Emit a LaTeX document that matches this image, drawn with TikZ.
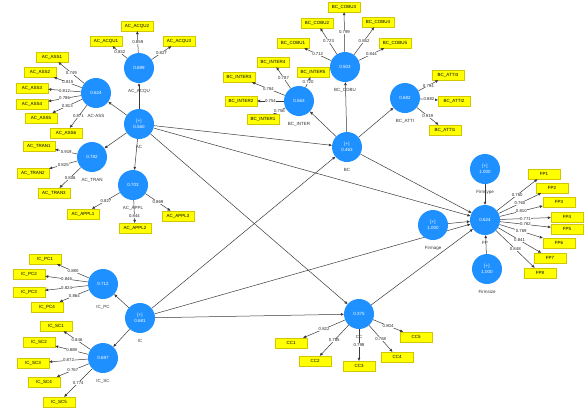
\documentclass[tikz,border=0pt]{standalone}
\usepackage{fontspec}
\setmainfont{Liberation Sans}
\usetikzlibrary{arrows.meta, positioning, backgrounds}
\definecolor{plsblue}{HTML}{1E90FF}
\definecolor{itemyellow}{HTML}{FFFF00}
\definecolor{itemborder}{HTML}{D2C600}
\definecolor{pathgray}{HTML}{3A3A3A}

\begin{document}
\begin{tikzpicture}[
  x=1pt, y=-1pt,
  lv/.style={circle, fill=plsblue, text=white, minimum size=30pt, inner sep=0pt,
             font=\fontsize{4.5}{6}\selectfont, align=center},
  item/.style={draw=itemborder, fill=itemyellow, minimum width=32pt, minimum height=10pt,
               inner sep=0pt, font=\fontsize{4.5}{5}\selectfont},
  lvname/.style={font=\fontsize{4.5}{5}\selectfont, text=black!80, inner sep=1pt,
                 text height=3.5pt, text depth=1pt},
  load/.style={fill=white, inner sep=0.4pt, font=\fontsize{4.3}{5}\selectfont, text=black!85},
  arrow/.style={-{Triangle[length=3pt, width=2.6pt]}, line width=0.5pt, color=pathgray}
]
\useasboundingbox (0,0) rectangle (585,408);

% Latent variables
\node[lv] (acqu) at (139,68) {0.699};
\node[lv] (ass) at (96,93) {0.624};
\node[lv] (ac) at (139,124) {[+]\\0.560};
\node[lv] (tran) at (92,157) {0.782};
\node[lv] (appl) at (133,185) {0.703};
\node[lv] (icpc) at (103,284) {0.712};
\node[lv] (ic) at (140,318) {[+]\\0.681};
\node[lv] (icsc) at (103,358) {0.697};
\node[lv] (cobu) at (345,67) {0.503};
\node[lv] (inter) at (299,101) {0.563};
\node[lv] (atti) at (405,98) {0.682};
\node[lv] (bc) at (347,147) {[+]\\0.463};
\node[lv] (cc) at (359,314) {0.375};
\node[lv] (fp) at (485,220) {0.624};
\node[lv] (ftype) at (485,169) {[+]\\1.000};
\node[lv] (fage) at (433,225) {[+]\\1.000};
\node[lv] (fsize) at (487,269) {[+]\\1.000};

% Names under the circles
\node[lvname, below=4.5pt of acqu] (acqu-name) {AC\_ACQU};
\node[lvname, below=4.5pt of ass] (ass-name) {AC-ASS};
\node[lvname, below=4.5pt of ac] (ac-name) {AC};
\node[lvname, below=4.5pt of tran] (tran-name) {AC\_TRAN};
\node[lvname, below=4.5pt of appl] (appl-name) {AC\_APPL};
\node[lvname, below=4.5pt of icpc] (icpc-name) {IC\_PC};
\node[lvname, below=4.5pt of ic] (ic-name) {IC};
\node[lvname, below=4.5pt of icsc] (icsc-name) {IC\_SC};
\node[lvname, below=4.5pt of cobu] (cobu-name) {BC\_COBU};
\node[lvname, below=4.5pt of inter] (inter-name) {BC\_INTER};
\node[lvname, below=4.5pt of atti] (atti-name) {BC\_ATTI};
\node[lvname, below=4.5pt of bc] (bc-name) {BC};
\node[lvname, below=4.5pt of cc] (cc-name) {CC};
\node[lvname, below=4.5pt of fp] (fp-name) {FP};
\node[lvname, below=4.5pt of ftype] (ftype-name) {Firmtype};
\node[lvname, below=4.5pt of fage] (fage-name) {Firmage};
\node[lvname, below=4.5pt of fsize] (fsize-name) {Firmsize};

% Indicators - AC
\node[item] (acqu1) at (106,41) {AC\_ACQU1};
\node[item] (acqu2) at (137,26) {AC\_ACQU2};
\node[item] (acqu3) at (179,41) {AC\_ACQU3};
\node[item] (ass1) at (52,57) {AC\_ASS1};
\node[item] (ass2) at (40,72) {AC\_ASS2};
\node[item] (ass3) at (32,88) {AC\_ASS3};
\node[item] (ass4) at (32,104) {AC\_ASS4};
\node[item] (ass5) at (41,118) {AC\_ASS5};
\node[item] (ass6) at (66,133) {AC\_ASS6};
\node[item] (tran1) at (39,146) {AC\_TRAN1};
\node[item] (tran2) at (33,173) {AC\_TRAN2};
\node[item] (tran3) at (54,193) {AC\_TRAN3};
\node[item] (appl1) at (83,214) {AC\_APPL1};
\node[item] (appl2) at (135,228) {AC\_APPL2};
\node[item] (appl3) at (178,216) {AC\_APPL3};

% Indicators - IC
\node[item] (icpc1) at (45,259) {IC\_PC1};
\node[item] (icpc2) at (29,274) {IC\_PC2};
\node[item] (icpc3) at (29,292) {IC\_PC3};
\node[item] (icpc4) at (47,307) {IC\_PC4};
\node[item] (icsc1) at (56,326) {IC\_SC1};
\node[item] (icsc2) at (39,342) {IC\_SC2};
\node[item] (icsc3) at (33,363) {IC\_SC3};
\node[item] (icsc4) at (44,382) {IC\_SC4};
\node[item] (icsc5) at (59,402) {IC\_SC5};

% Indicators - BC
\node[item] (cobu1) at (293,43) {BC\_COBU1};
\node[item] (cobu2) at (317,23) {BC\_COBU2};
\node[item] (cobu3) at (344,7) {BC\_COBU3};
\node[item] (cobu4) at (378,22) {BC\_COBU4};
\node[item] (cobu5) at (395,43) {BC\_COBU5};
\node[item] (inter1) at (263,119) {BC\_INTER1};
\node[item] (inter2) at (241,101) {BC\_INTER2};
\node[item] (inter3) at (239,77) {BC\_INTER3};
\node[item] (inter4) at (273,62) {BC\_INTER4};
\node[item] (inter5) at (313,72) {BC\_INTER5};
\node[item] (atti1) at (445,130) {BC\_ATTI1};
\node[item] (atti2) at (454,101) {BC\_ATTI2};
\node[item] (atti3) at (448,75) {BC\_ATTI3};

% Indicators - CC and FP
\node[item] (cc1) at (291,343) {CC1};
\node[item] (cc2) at (315,361) {CC2};
\node[item] (cc3) at (359,366) {CC3};
\node[item] (cc4) at (397,357) {CC4};
\node[item] (cc5) at (416,337) {CC5};
\node[item] (fp1) at (544,174) {FP1};
\node[item] (fp2) at (552,188) {FP2};
\node[item] (fp3) at (559,202) {FP3};
\node[item] (fp4) at (567,217) {FP4};
\node[item] (fp5) at (567,229) {FP5};
\node[item] (fp6) at (559,243) {FP6};
\node[item] (fp7) at (550,258) {FP7};
\node[item] (fp8) at (540,273) {FP8};

% Outer loadings
\draw[arrow] (acqu) -- node[load] {0.832} (acqu1);
\draw[arrow] (acqu) -- node[load] {0.859} (acqu2);
\draw[arrow] (acqu) -- node[load] {0.827} (acqu3);
\draw[arrow] (ass) -- node[load] {0.749} (ass1);
\draw[arrow] (ass) -- node[load] {0.815} (ass2);
\draw[arrow] (ass) -- node[load] {0.812} (ass3);
\draw[arrow] (ass) -- node[load] {0.786} (ass4);
\draw[arrow] (ass) -- node[load] {0.813} (ass5);
\draw[arrow] (ass) -- node[load] {0.871} (ass6);
\draw[arrow] (tran) -- node[load] {0.919} (tran1);
\draw[arrow] (tran) -- node[load] {0.825} (tran2);
\draw[arrow] (tran) -- node[load] {0.806} (tran3);
\draw[arrow] (appl) -- node[load] {0.827} (appl1);
\draw[arrow] (appl) -- node[load, pos=0.7] {0.844} (appl2);
\draw[arrow] (appl) -- node[load] {0.869} (appl3);
\draw[arrow] (icpc) -- node[load] {0.880} (icpc1);
\draw[arrow] (icpc) -- node[load] {0.846} (icpc2);
\draw[arrow] (icpc) -- node[load] {0.824} (icpc3);
\draw[arrow] (icpc) -- node[load] {0.864} (icpc4);
\draw[arrow] (icsc) -- node[load] {0.846} (icsc1);
\draw[arrow] (icsc) -- node[load] {0.888} (icsc2);
\draw[arrow] (icsc) -- node[load] {0.872} (icsc3);
\draw[arrow] (icsc) -- node[load] {0.767} (icsc4);
\draw[arrow] (icsc) -- node[load] {0.774} (icsc5);
\draw[arrow] (cobu) -- node[load] {0.712} (cobu1);
\draw[arrow] (cobu) -- node[load] {0.723} (cobu2);
\draw[arrow] (cobu) -- node[load] {0.799} (cobu3);
\draw[arrow] (cobu) -- node[load] {0.852} (cobu4);
\draw[arrow] (cobu) -- node[load] {0.844} (cobu5);
\draw[arrow] (inter) -- node[load] {0.756} (inter1);
\draw[arrow] (inter) -- node[load] {0.754} (inter2);
\draw[arrow] (inter) -- node[load] {0.784} (inter3);
\draw[arrow] (inter) -- node[load] {0.787} (inter4);
\draw[arrow] (inter) -- node[load] {0.720} (inter5);
\draw[arrow] (atti) -- node[load] {0.919} (atti1);
\draw[arrow] (atti) -- node[load] {0.882} (atti2);
\draw[arrow] (atti) -- node[load] {0.794} (atti3);
\draw[arrow] (cc) -- node[load] {0.822} (cc1);
\draw[arrow] (cc) -- node[load] {0.785} (cc2);
\draw[arrow] (cc) -- node[load] {0.798} (cc3);
\draw[arrow] (cc) -- node[load] {0.768} (cc4);
\draw[arrow] (cc) -- node[load] {0.804} (cc5);
\draw[arrow] (fp) -- node[load] {0.760} (fp1);
\draw[arrow] (fp) -- node[load] {0.760} (fp2);
\draw[arrow] (fp) -- node[load] {0.810} (fp3);
\draw[arrow] (fp) -- node[load] {0.771} (fp4);
\draw[arrow] (fp) -- node[load] {0.762} (fp5);
\draw[arrow] (fp) -- node[load] {0.769} (fp6);
\draw[arrow] (fp) -- node[load] {0.841} (fp7);
\draw[arrow] (fp) -- node[load] {0.848} (fp8);

% Inner model
\begin{scope}[on background layer]
\draw[arrow] (ac) -- (acqu);
\draw[arrow] (ac) -- (ass);
\draw[arrow] (ac) -- (tran);
\draw[arrow] (ac) -- (appl);
\draw[arrow] (ic) -- (icpc);
\draw[arrow] (ic) -- (icsc);
\draw[arrow] (bc) -- (cobu);
\draw[arrow] (bc) -- (inter);
\draw[arrow] (bc) -- (atti);
\draw[arrow] (ac) -- (bc);
\draw[arrow] (ac) -- (fp);
\draw[arrow] (ac) -- (cc);
\draw[arrow] (ic) -- (bc);
\draw[arrow] (ic) -- (fp);
\draw[arrow] (ic) -- (cc);
\draw[arrow] (bc) -- (fp);
\draw[arrow] (cc) -- (fp);
\draw[arrow] (ftype) -- (fp);
\draw[arrow] (fage) -- (fp);
\draw[arrow] (fsize) -- (fp);
\end{scope}

\end{tikzpicture}
\end{document}
